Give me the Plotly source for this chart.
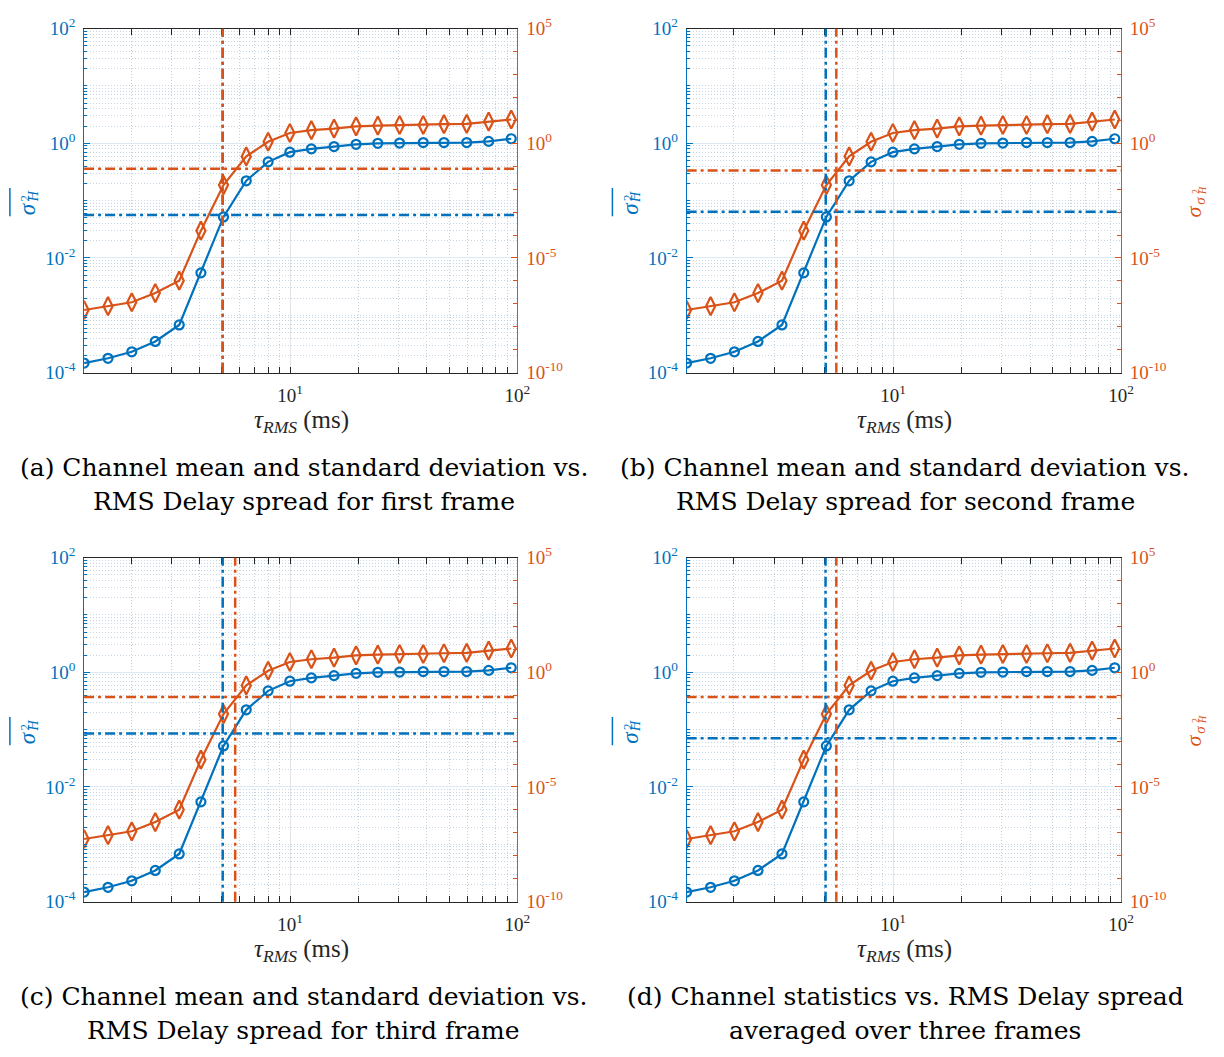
import plotly.graph_objects as go

# RMS delay spread (ms)
tau_rms = [1.24, 1.58, 2.01, 2.55, 3.25, 4.05, 5.09, 6.41, 8.0, 9.97,
           12.4, 15.6, 19.5, 24.3, 30.3, 38.5, 47.5, 59.8, 74.7, 93.9]

# channel mean (left axis) and channel standard deviation (right axis)
mean_h = [1.47e-4, 1.78e-4, 2.31e-4, 3.5e-4, 6.8e-4, 5.5e-3, 0.052, 0.222, 0.475, 0.70,
          0.80, 0.877, 0.96, 1.0, 1.01, 1.03, 1.03, 1.03, 1.08, 1.20]
std_h = [5.4e-8, 7.9e-8, 1.17e-7, 2.95e-7, 1.02e-6, 1.55e-4, 0.0151, 0.269, 1.17, 2.82,
         3.72, 4.37, 5.5, 5.9, 6.3, 6.3, 6.8, 7.1, 8.9, 10.9]

# per-frame thresholds: horizontal levels and delay-spread crossings
thr_mean = [0.056, 0.064, 0.0855, 0.071]
thr_std = [0.078, 0.066, 0.083, 0.083]
cross_mean = [5.05, 5.06, 5.05, 5.05]
cross_std = [5.05, 5.63, 5.73, 5.63]

captions = [
    ["(a) Channel mean and standard deviation vs.", "RMS Delay spread for first frame"],
    ["(b) Channel mean and standard deviation vs.", "RMS Delay spread for second frame"],
    ["(c) Channel mean and standard deviation vs.", "RMS Delay spread for third frame"],
    ["(d) Channel statistics vs. RMS Delay spread", "averaged over three frames"],
]

left_ticks = [1e-4, 1e-2, 1e0, 1e2]
left_text = ["10<sup>-4</sup>", "10<sup>-2</sup>", "10<sup>0</sup>", "10<sup>2</sup>"]
right_ticks = [1e-10, 1e-5, 1e0, 1e5]
right_text = ["10<sup>-10</sup>", "10<sup>-5</sup>", "10<sup>0</sup>", "10<sup>5</sup>"]
x_ticks = [10, 100]
x_text = ["10<sup>1</sup>", "10<sup>2</sup>"]

BLUE = "#0072BD"
ORANGE = "#D95319"
TICK_FONT = "Liberation Serif"
TEXT_FONT = "DejaVu Serif"
W, H = 1224, 1057

left_minor = [m * 10.0 ** e for e in range(-4, 2) for m in range(1, 10)
              if not (m == 1 and e % 2 == 0)]
right_minor = [10.0 ** e for e in range(-10, 6) if e % 5 != 0]
x_minor = [m * 10.0 ** e for e in range(0, 2) for m in range(2, 10)]

# panel frames in pixels: (left, right, top, bottom)
frames = [(85, 523, 16, 368), (694, 1133, 16, 368),
          (85, 523, 557.3, 909.3), (694, 1133, 557.3, 909.3)]

fig = go.Figure()
layout = dict(
    width=W, height=H, margin=dict(l=0, r=0, t=0, b=0),
    paper_bgcolor="white", plot_bgcolor="white", showlegend=False,
    font=dict(family=TICK_FONT, size=19, color="#262626"),
)
shapes = []
annotations = []
dash = "10px,4px,3px,4px"
minor_dash = "1px,2px"


def ax_id(letter, n):
    return letter if n == 1 else f"{letter}{n}"


def px(x):
    return x / W


def py(y):
    return 1 - y / H


def label(x, y, text, size, color, font=TICK_FONT, angle=-90):
    annotations.append(dict(
        xref="paper", yref="paper", x=px(x), y=py(y), text=text,
        textangle=angle, showarrow=False, font=dict(family=font, size=size, color=color),
        xanchor="center", yanchor="middle"))


for i in range(4):
    l, r, t, b = frames[i]
    xa = ax_id("x", i + 1)
    yl = ax_id("y", 2 * i + 1)
    yr = ax_id("y", 2 * i + 2)
    xdom = [l / W, r / W]
    ydom = [1 - b / H, 1 - t / H]

    layout[f"xaxis{i + 1}"] = dict(
        domain=xdom, anchor=yl, type="log", range=[0.0934, 2.0],
        tickmode="array", tickvals=x_ticks, ticktext=x_text,
        ticks="inside", ticklen=6, tickcolor="#262626", mirror="allticks",
        showline=True, linecolor="#262626", linewidth=1,
        showgrid=True, gridcolor="#e3e3e3", gridwidth=1, ticklabelstandoff=6,
        tickfont=dict(family=TICK_FONT, size=19, color="#262626"),
        minor=dict(tickmode="array", tickvals=x_minor, ticks="inside", ticklen=3,
                   tickcolor="#262626", showgrid=True, gridcolor="#c9cfd6",
                   griddash=minor_dash, gridwidth=1),
        zeroline=False,
    )
    layout[f"yaxis{2 * i + 1}"] = dict(
        domain=ydom, anchor=xa, type="log", range=[-4, 2],
        tickmode="array", tickvals=left_ticks, ticktext=left_text,
        ticks="inside", ticklen=6, tickcolor=BLUE,
        showline=True, linecolor=BLUE, linewidth=1,
        showgrid=True, gridcolor="#dbe9f5", gridwidth=1, ticklabelstandoff=4,
        tickfont=dict(family=TICK_FONT, size=19, color=BLUE),
        minor=dict(tickmode="array", tickvals=left_minor, ticks="inside", ticklen=3,
                   tickcolor=BLUE, showgrid=True, gridcolor="#c5d6e6",
                   griddash=minor_dash, gridwidth=1),
        zeroline=False,
    )
    layout[f"yaxis{2 * i + 2}"] = dict(
        domain=ydom, anchor=xa, overlaying=yl, side="right", type="log",
        range=[-10, 5], tickmode="array", tickvals=right_ticks, ticktext=right_text,
        ticks="inside", ticklen=6, tickcolor=ORANGE,
        showline=True, linecolor=ORANGE, linewidth=1, showgrid=False, ticklabelstandoff=4,
        tickfont=dict(family=TICK_FONT, size=19, color=ORANGE),
        minor=dict(tickmode="array", tickvals=right_minor, ticks="inside", ticklen=4,
                   tickcolor=ORANGE, showgrid=False),
        zeroline=False,
    )

    fig.add_trace(go.Scatter(
        x=tau_rms, y=mean_h, xaxis=xa, yaxis=yl, mode="lines+markers",
        line=dict(color=BLUE, width=2.2),
        marker=dict(symbol="circle-open", size=9, color=BLUE, line=dict(width=2.2, color=BLUE)),
    ))
    fig.add_trace(go.Scatter(
        x=tau_rms, y=std_h, xaxis=xa, yaxis=yr, mode="lines+markers",
        line=dict(color=ORANGE, width=2.2),
        marker=dict(symbol="diamond-tall-open", size=13, color=ORANGE,
                    line=dict(width=2.2, color=ORANGE)),
    ))

    # threshold lines
    shapes.append(dict(type="line", xref=f"{xa} domain", x0=0, x1=1, yref=yl,
                       y0=thr_mean[i], y1=thr_mean[i],
                       line=dict(color=BLUE, width=2.5, dash=dash)))
    shapes.append(dict(type="line", xref=f"{xa} domain", x0=0, x1=1, yref=yr,
                       y0=thr_std[i], y1=thr_std[i],
                       line=dict(color=ORANGE, width=2.5, dash=dash)))
    shapes.append(dict(type="line", xref=xa, x0=cross_mean[i], x1=cross_mean[i],
                       yref=f"{yl} domain", y0=0, y1=1,
                       line=dict(color=BLUE, width=2.5, dash=dash)))
    shapes.append(dict(type="line", xref=xa, x0=cross_std[i], x1=cross_std[i],
                       yref=f"{yl} domain", y0=0, y1=1,
                       line=dict(color=ORANGE, width=2.5, dash=dash)))

    cx = (l + r) / 2
    # x-axis title
    label(cx + 1, b + 50, "<i>τ</i><sub><i>RMS</i></sub> (ms)", 25, "#262626", angle=0)

    # left y-axis title: mean of sigma_H^2 (overlined)
    label(l - 57, t + 184, "<i>σ</i>", 23, BLUE)
    label(l - 60, t + 173, "2", 13, BLUE)
    label(l - 51, t + 172, "<i>H</i>", 14, BLUE)
    shapes.append(dict(type="line", xref="paper", yref="paper",
                       x0=px(l - 75), x1=px(l - 75), y0=py(t + 163), y1=py(t + 192),
                       line=dict(color=BLUE, width=1.5)))

    # right y-axis title (only visible on the right-hand panels)
    if i % 2 == 1:
        label(r + 73, t + 187, "<i>σ</i>", 22, ORANGE)
        label(r + 80, t + 176, "<i>σ</i>", 15, ORANGE)
        label(r + 76, t + 167, "2", 10, ORANGE)
        label(r + 83, t + 166, "<i>H</i>", 10, ORANGE)

    # caption
    cap_x = 307 if i % 2 == 0 else 915
    for k, line in enumerate(captions[i]):
        label(cap_x, b + 97 + 35 * k, line, 25, "black", font=TEXT_FONT, angle=0)

layout["shapes"] = shapes
layout["annotations"] = annotations
fig.update_layout(**layout)
fig.write_html("out.html")
